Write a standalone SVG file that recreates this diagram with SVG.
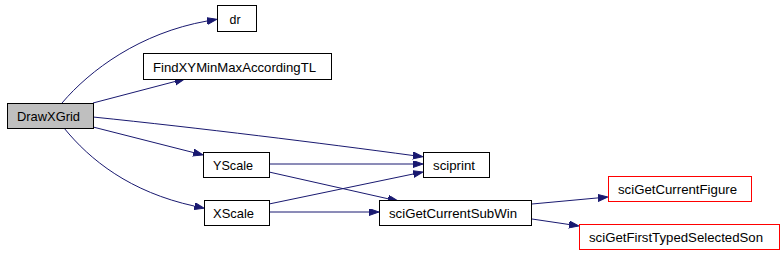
<svg xmlns="http://www.w3.org/2000/svg" width="783" height="253" viewBox="0 0 783 253">
<style>
.n rect{fill:#fff;stroke:#000;stroke-width:1}
.n.root rect{fill:#bfbfbf}
.n.red rect{stroke:#ff0000}
.n text{font-family:"Liberation Sans",Arial,sans-serif;font-size:13px;fill:#000;text-anchor:middle}
#edges path{fill:none;stroke:#191970;stroke-width:1;marker-end:url(#ah)}
</style>
<defs>
<marker id="ah" markerUnits="userSpaceOnUse" markerWidth="11" markerHeight="8" refX="0" refY="3.5" orient="auto" viewBox="0 0 11 8">
<path d="M0,0 L10,3.5 L0,7 z" fill="#191970" stroke="#191970" stroke-width="1"/>
</marker>
</defs>
<rect width="783" height="253" fill="#fff"/>
<g id="edges">
<path d="M62,103 C90,70 140,33 207,21"/>
<path d="M93,103 L175,81.5"/>
<path d="M93,117 C200,128 320,143 413,155.5"/>
<path d="M93,127 L193.3,152.5"/>
<path d="M64,128 C90,160 130,192 194.4,206.1"/>
<path d="M269,164 L413,164"/>
<path d="M269,172 L388.2,198.8"/>
<path d="M269,204 L413.2,174"/>
<path d="M269,212 L369,212"/>
<path d="M532,204 L598,197.9"/>
<path d="M532,219 L569.1,224.5"/>
</g>
<g id="DrawXGrid" class="n root"><rect x="7.5" y="103.5" width="86" height="25"/><text x="48.5" y="121" textLength="63" lengthAdjust="spacingAndGlyphs">DrawXGrid</text></g>
<g id="dr" class="n"><rect x="217.5" y="5.5" width="39" height="26"/><text x="235" y="23.5" textLength="11" lengthAdjust="spacingAndGlyphs">dr</text></g>
<g id="FindXYMinMaxAccordingTL" class="n"><rect x="143.5" y="53.5" width="188" height="26"/><text x="234.5" y="71.5" textLength="163" lengthAdjust="spacingAndGlyphs">FindXYMinMaxAccordingTL</text></g>
<g id="YScale" class="n"><rect x="203.5" y="152.5" width="66" height="25"/><text x="233" y="170" textLength="40" lengthAdjust="spacingAndGlyphs">YScale</text></g>
<g id="XScale" class="n"><rect x="204.5" y="200.5" width="65" height="25"/><text x="233.5" y="218" textLength="41" lengthAdjust="spacingAndGlyphs">XScale</text></g>
<g id="sciprint" class="n"><rect x="423.5" y="152.5" width="66" height="25"/><text x="454" y="170" textLength="42" lengthAdjust="spacingAndGlyphs">sciprint</text></g>
<g id="sciGetCurrentSubWin" class="n"><rect x="379.5" y="200.5" width="152" height="25"/><text x="453" y="218" textLength="128" lengthAdjust="spacingAndGlyphs">sciGetCurrentSubWin</text></g>
<g id="sciGetCurrentFigure" class="n red"><rect x="608.5" y="176.5" width="143" height="25"/><text x="677.5" y="194" textLength="119" lengthAdjust="spacingAndGlyphs">sciGetCurrentFigure</text></g>
<g id="sciGetFirstTypedSelectedSon" class="n red"><rect x="579.5" y="224.5" width="200" height="25"/><text x="676" y="242" textLength="174" lengthAdjust="spacingAndGlyphs">sciGetFirstTypedSelectedSon</text></g>
</svg>
